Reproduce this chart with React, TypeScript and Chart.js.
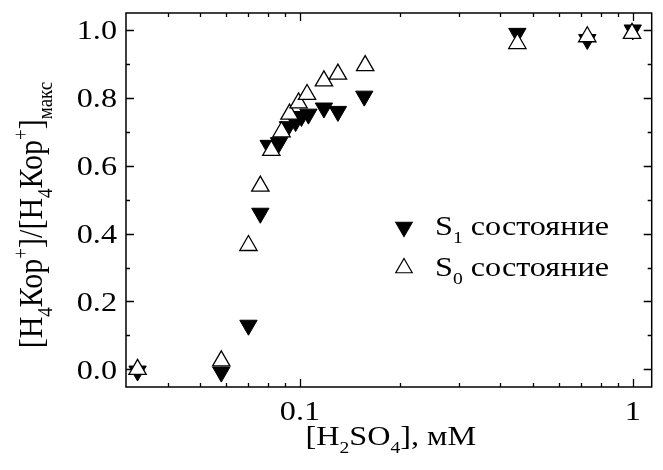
import React, { useEffect, useRef } from 'react';
import { Chart, registerables } from 'chart.js';

Chart.register(...registerables);

// ---- data ----
const s1X = [0.0325, 0.058, 0.0700, 0.0760, 0.0805, 0.0865, 0.0920, 0.0970, 0.1010, 0.1060, 0.1180, 0.1300, 0.1560, 0.450, 0.730, 1.000];
const s1Y = [-0.005, -0.008, 0.130, 0.460, 0.660, 0.668, 0.715, 0.730, 0.745, 0.752, 0.770, 0.760, 0.805, 0.990, 0.972, 1.000];
const s0X = [0.0325, 0.058, 0.0700, 0.0760, 0.0820, 0.0880, 0.0930, 0.0990, 0.1050, 0.1180, 0.1300, 0.1570, 0.450, 0.730, 0.995];
const s0Y = [0.000, 0.025, 0.365, 0.540, 0.645, 0.700, 0.752, 0.785, 0.810, 0.850, 0.870, 0.895, 0.960, 0.980, 0.990];

const xTickLabels = [0.1, 1];
const xMinorTicks = [0.04, 0.05, 0.06, 0.07, 0.08, 0.09, 0.2, 0.3, 0.4, 0.5, 0.6, 0.7, 0.8, 0.9];
const yTickLabels = [0, 0.2, 0.4, 0.6, 0.8, 1.0];
const yMinorTicks = [0.1, 0.3, 0.5, 0.7, 0.9];

type Seg = { t: string; k?: 'sub' | 'sup' };
const s1Label: Seg[] = [{ t: 'S' }, { t: '1', k: 'sub' }, { t: ' состояние' }];
const s0Label: Seg[] = [{ t: 'S' }, { t: '0', k: 'sub' }, { t: ' состояние' }];
const xTitle: Seg[] = [{ t: '[H' }, { t: '2', k: 'sub' }, { t: 'SO' }, { t: '4', k: 'sub' }, { t: '], мМ' }];
const yTitle: Seg[] = [
  { t: '[H' }, { t: '4', k: 'sub' }, { t: 'Кор' }, { t: '+', k: 'sup' },
  { t: ']/[H' }, { t: '4', k: 'sub' }, { t: 'Кор' }, { t: '+', k: 'sup' },
  { t: ']' }, { t: 'макс', k: 'sub' },
];

const FONT = '"Liberation Serif", serif';
const SX = 1.15; // horizontal stretch of text in the reference

function richWidth(ctx: CanvasRenderingContext2D, segs: Seg[], size: number) {
  const small = Math.round(size * 0.62);
  let w = 0;
  const ws = segs.map((s) => {
    ctx.font = `${s.k ? small : size}px ${FONT}`;
    const m = ctx.measureText(s.t).width;
    w += m;
    return m;
  });
  return { w, ws, small };
}

function drawRich(ctx: CanvasRenderingContext2D, segs: Seg[], size: number, align: 'left' | 'center') {
  const { w, ws, small } = richWidth(ctx, segs, size);
  let cx = align === 'center' ? -w / 2 : 0;
  ctx.textAlign = 'left';
  ctx.textBaseline = 'alphabetic';
  segs.forEach((s, i) => {
    ctx.font = `${s.k ? small : size}px ${FONT}`;
    const dy = s.k === 'sub' ? size * 0.3 : s.k === 'sup' ? -size * 0.42 : 0;
    ctx.fillText(s.t, cx, dy);
    cx += ws[i];
  });
}

function triangle(ctx: CanvasRenderingContext2D, x: number, y: number, r: number, down: boolean, filled: boolean) {
  const d = down ? -1 : 1;
  ctx.beginPath();
  ctx.moveTo(x, y - d * r);
  ctx.lineTo(x + r * Math.sin(Math.PI / 3), y + d * r * 0.5);
  ctx.lineTo(x - r * Math.sin(Math.PI / 3), y + d * r * 0.5);
  ctx.closePath();
  ctx.fillStyle = filled ? '#000' : '#fff';
  ctx.fill();
  ctx.lineWidth = 1.2;
  ctx.strokeStyle = '#000';
  ctx.stroke();
}

const framePlugin = {
  id: 'frame',
  beforeDatasetsDraw(chart: any) {
    const { ctx, chartArea: a, scales } = chart;
    const xs = scales.x;
    const ys = scales.y;
    ctx.save();
    ctx.strokeStyle = '#000';
    ctx.lineWidth = 1.5;
    ctx.strokeRect(a.left, a.top, a.right - a.left, a.bottom - a.top);
    ctx.lineWidth = 1.3;
    const major = 8;
    const minor = 4;
    ctx.beginPath();
    const xt = (v: number, len: number) => {
      const px = Math.round(xs.getPixelForValue(v)) + 0.5;
      ctx.moveTo(px, a.bottom);
      ctx.lineTo(px, a.bottom - len);
      ctx.moveTo(px, a.top);
      ctx.lineTo(px, a.top + len);
    };
    xTickLabels.forEach((v) => xt(v, major));
    xMinorTicks.forEach((v) => xt(v, minor));
    const yt = (v: number, len: number) => {
      const py = Math.round(ys.getPixelForValue(v)) + 0.5;
      ctx.moveTo(a.left, py);
      ctx.lineTo(a.left + len, py);
      ctx.moveTo(a.right, py);
      ctx.lineTo(a.right - len, py);
    };
    yTickLabels.forEach((v) => yt(v, major));
    yMinorTicks.forEach((v) => yt(v, minor));
    ctx.stroke();
    ctx.restore();
  },
  afterDraw(chart: any) {
    const { ctx, chartArea: a, scales } = chart;
    const xs = scales.x;
    const ys = scales.y;
    const size = 28;
    ctx.save();
    ctx.fillStyle = '#000';
    yTickLabels.forEach((v) => {
      const py = ys.getPixelForValue(v);
      ctx.save();
      ctx.translate(a.left - 9, py + 9.5);
      ctx.scale(SX, 1);
      ctx.font = `${size}px ${FONT}`;
      ctx.textAlign = 'right';
      ctx.textBaseline = 'alphabetic';
      ctx.fillText(v.toFixed(1), 0, 0);
      ctx.restore();
    });
    xTickLabels.forEach((v) => {
      const px = xs.getPixelForValue(v);
      ctx.save();
      ctx.translate(px, a.bottom + 33);
      ctx.scale(SX, 1);
      ctx.font = `${size}px ${FONT}`;
      ctx.textAlign = 'center';
      ctx.textBaseline = 'alphabetic';
      ctx.fillText(String(v), 0, 0);
      ctx.restore();
    });
    ctx.save();
    ctx.translate((a.left + a.right) / 2 + 2, 445);
    ctx.scale(SX, 1);
    drawRich(ctx, xTitle, size, 'center');
    ctx.restore();
    ctx.save();
    ctx.translate(42, 215);
    ctx.rotate(-Math.PI / 2);
    ctx.scale(1, SX);
    drawRich(ctx, yTitle, 30, 'center');
    ctx.restore();
    const lx = 404;
    const rows: [Seg[], boolean, number][] = [[s1Label, true, 227], [s0Label, false, 268]];
    rows.forEach(([segs, filled, y]) => {
      triangle(ctx, lx, y, 9.5, filled, filled);
      ctx.save();
      ctx.translate(435, y + 8);
      ctx.scale(SX, 1);
      ctx.fillStyle = '#000';
      drawRich(ctx, segs, size, 'left');
      ctx.restore();
    });
    ctx.restore();
  },
};

export default function App() {
  const ref = useRef<HTMLCanvasElement | null>(null);
  useEffect(() => {
    if (!ref.current) return;
    const chart = new Chart(ref.current, {
      type: 'scatter',
      data: {
        datasets: [
          {
            label: 'S1 состояние',
            data: s1X.map((x, i) => ({ x, y: s1Y[i] })),
            pointStyle: 'triangle',
            rotation: 180,
            pointRadius: 10,
            backgroundColor: '#000',
            borderColor: '#000',
            borderWidth: 1,
            order: 1,
            clip: false,
          },
          {
            label: 'S0 состояние',
            data: s0X.map((x, i) => ({ x, y: s0Y[i] })),
            pointStyle: 'triangle',
            pointRadius: 10,
            backgroundColor: '#fff',
            borderColor: '#000',
            borderWidth: 1.3,
            order: 0,
            clip: false,
          },
        ],
      } as any,
      options: {
        animation: false,
        responsive: false,
        devicePixelRatio: 1,
        layout: { padding: { top: 13, right: 1, left: 0, bottom: 0 } },
        plugins: { legend: { display: false }, tooltip: { enabled: false } },
        scales: {
          x: {
            type: 'logarithmic',
            min: 0.03,
            max: 1.14,
            grid: { display: false, drawTicks: false },
            border: { display: false },
            ticks: { display: false },
            afterFit: (s: any) => { s.height = 83; },
          },
          y: {
            type: 'linear',
            min: -0.052,
            max: 1.05,
            grid: { display: false, drawTicks: false },
            border: { display: false },
            ticks: { display: false },
            afterFit: (s: any) => { s.width = 126; },
          },
        },
      } as any,
      plugins: [framePlugin],
    });
    return () => chart.destroy();
  }, []);
  return (
    <div style={{ position: 'absolute', left: 0, top: 0, width: 663, height: 470, background: '#fff' }}>
      <canvas ref={ref} width={663} height={470} />
    </div>
  );
}
